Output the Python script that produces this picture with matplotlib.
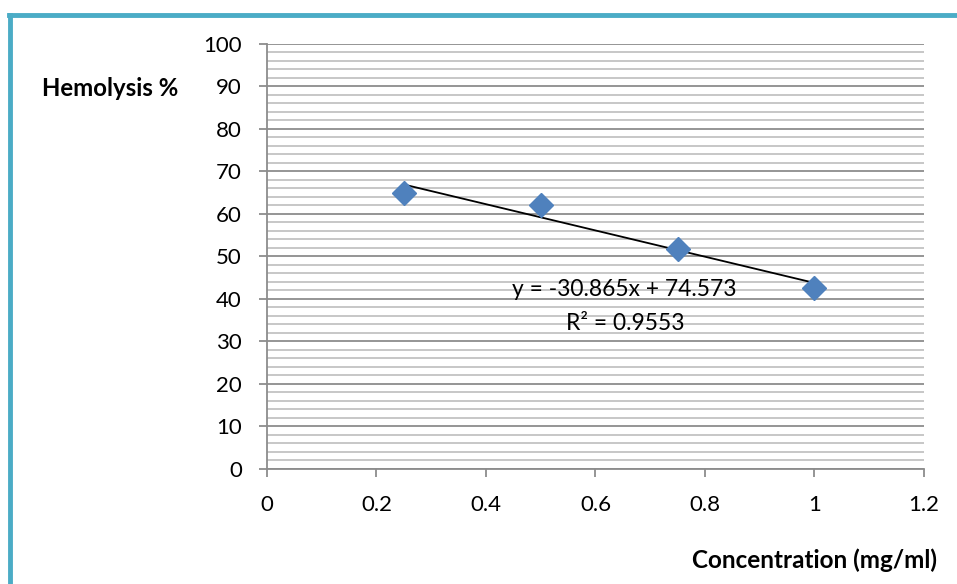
import matplotlib.pyplot as plt
import numpy as np
from matplotlib.lines import Line2D
from matplotlib.ticker import MultipleLocator

plt.rcParams['font.family'] = ['Lato', 'DejaVu Sans']

conc = np.array([0.25, 0.5, 0.75, 1.0])
hemolysis = np.array([64.9, 62.1, 51.8, 42.6])
eq_text = "y = -30.865x + 74.573"
r2_text = "R² = 0.9553"

fig = plt.figure(figsize=(9.57, 5.84), dpi=100)
ax = fig.add_axes([0.279, 0.197, 0.6865, 0.7277])

# frame like the excel chart border (top + left)
fig.add_artist(Line2D([0.009, 1.0], [0.974, 0.974], color='#4bacc6', lw=3.5))
fig.add_artist(Line2D([0.0105, 0.0105], [0.0, 0.974], color='#4bacc6', lw=3.5))

ax.set_xlim(0, 1.2)
ax.set_ylim(0, 100)
ax.xaxis.set_major_locator(MultipleLocator(0.2))
ax.yaxis.set_major_locator(MultipleLocator(10))
ax.yaxis.set_minor_locator(MultipleLocator(2))

ax.grid(axis='y', which='major', color='#8c8c8c', lw=1.3)
ax.grid(axis='y', which='minor', color='#b8b8b8', lw=1.1)
ax.set_axisbelow(True)

for s in ['top', 'right']:
    ax.spines[s].set_visible(False)
for s in ['left', 'bottom']:
    ax.spines[s].set_color('#8c8c8c')
    ax.spines[s].set_linewidth(1.3)

ax.tick_params(axis='both', which='major', length=6, width=1.3, color='#8c8c8c',
               labelsize=16, labelcolor='black')
ax.tick_params(axis='y', which='minor', length=0)
ax.tick_params(axis='y', pad=12)
ax.tick_params(axis='x', pad=13)
ax.set_xticks(np.arange(0, 1.21, 0.2))
ax.set_xticklabels(['0', '0.2', '0.4', '0.6', '0.8', '1', '1.2'])

ax.plot(conc, hemolysis, 'D', color='#4f81bd', ms=12.5, zorder=3)

k, b = np.polyfit(conc, hemolysis, 1)
xs = np.array([conc.min(), conc.max()])
ax.plot(xs, k * xs + b, color='black', lw=1.3, zorder=2)

ax.text(0.652, 42.2, eq_text, fontsize=16.4, ha='center', va='center')
ax.text(0.655, 34.2, r2_text, fontsize=16.4, ha='center', va='center')

fig.text(0.044, 0.849, 'Hemolysis %', fontsize=17.3, fontweight='bold', va='center')
fig.text(0.979, 0.04, 'Concentration (mg/ml)', fontsize=17.5, fontweight='bold',
         ha='right', va='center')

fig.savefig('out.png', dpi=100)
